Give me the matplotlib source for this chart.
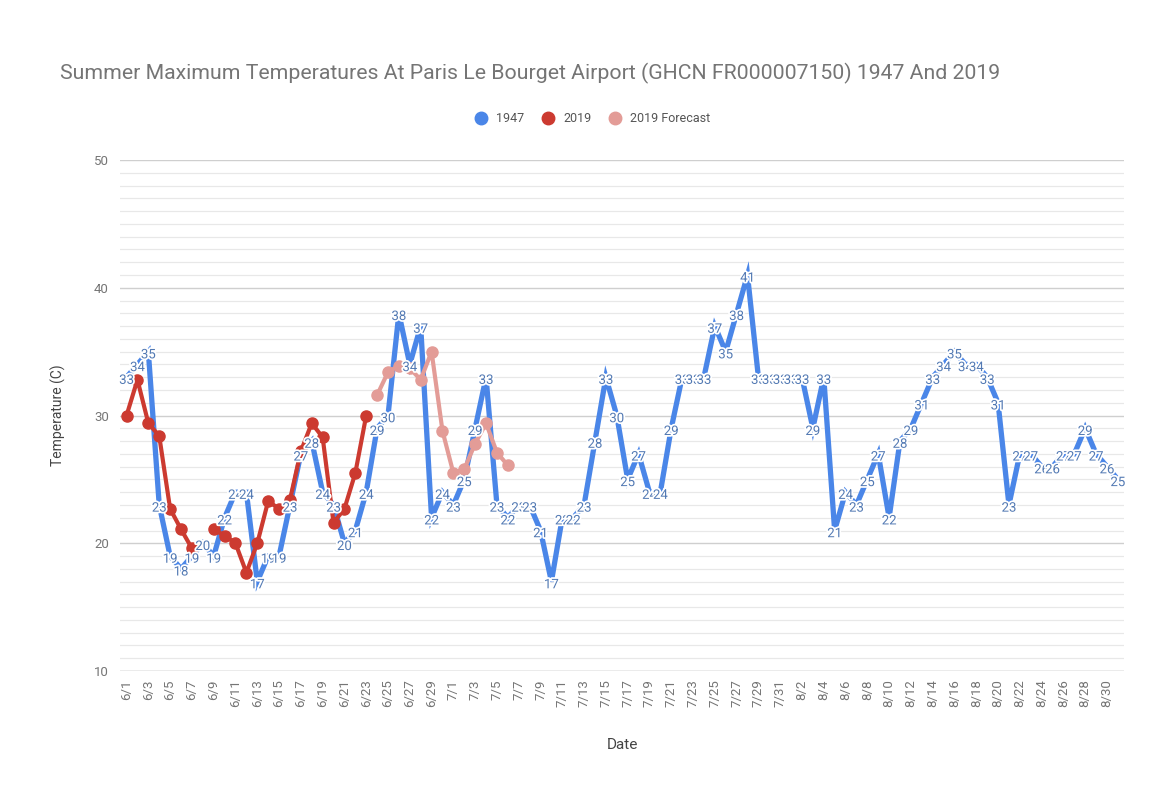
import matplotlib
matplotlib.use("Agg")
import matplotlib.pyplot as plt
import matplotlib.patheffects as pe
from matplotlib.lines import Line2D
import numpy as np
import datetime as dt

plt.rcParams.update({"font.family": ["Roboto", "DejaVu Sans"]})

# ---- data ------------------------------------------------------------------
start = dt.date(1947, 6, 1)
dates = [start + dt.timedelta(days=i) for i in range(92)]
date_labels = [f"{d.month}/{d.day}" for d in dates]

t1947 = [
    # June 1-30
    33, 34, 35, 23, 19, 18, 19, 20, 19, 22,
    24, 24, 17, 19, 19, 23, 27, 28, 24, 23,
    20, 21, 24, 29, 30, 38, 34, 37, 22, 24,
    # July 1-31
    23, 25, 29, 33, 23, 22, 23, 23, 21, 17,
    22, 22, 23, 28, 33, 30, 25, 27, 24, 24,
    29, 33, 33, 33, 37, 35, 38, 41, 33, 33,
    33,
    # August 1-31
    33, 33, 29, 33, 21, 24, 23, 25, 27, 22,
    28, 29, 31, 33, 34, 35, 34, 34, 33, 31,
    23, 27, 27, 26, 26, 27, 27, 29, 27, 26,
    25,
]

t2019 = [30.0, 32.8, 29.4, 28.4, 22.7, 21.1, 19.6, np.nan, 21.1, 20.6,
         20.0, 17.7, 20.0, 23.3, 22.7, 23.4, 27.2, 29.4, 28.3, 21.6,
         22.7, 25.5, 30.0]                      # 6/1 .. 6/23

t2019_fc = [31.6, 33.4, 33.9, 33.7, 32.8, 35.0, 28.8, 25.5, 25.8, 27.8,
            29.4, 27.1, 26.1]                   # 6/24 .. 7/6

BLUE = "#4a86e8"
RED = "#cc3a30"
PINK = "#e39c97"
GREY = "#757575"

# ---- figure ----------------------------------------------------------------
fig = plt.figure(figsize=(11.72, 7.93), dpi=100)
ax = fig.add_axes([0.1024, 0.1538, 0.857, 0.6444])

x = np.arange(len(dates))
ax.plot(x, t1947, color=BLUE, lw=3.8, solid_joinstyle="miter", zorder=3)

x19 = np.arange(len(t2019))
ax.plot(x19, t2019, color=RED, lw=3.0, marker="o", ms=8, zorder=4)
xfc = np.arange(len(t2019), len(t2019) + len(t2019_fc))
ax.plot(xfc, t2019_fc, color=PINK, lw=3.0, marker="o", ms=8, zorder=4)

halo = [pe.withStroke(linewidth=2.5, foreground="white")]
for xi, v in zip(x, t1947):
    ax.text(xi, v - 0.25, f"{v:.0f}", ha="center", va="center", fontsize=9.5,
            color="#5279b3", path_effects=halo, zorder=5)

ax.set_xlim(-0.6, 91.6)
ax.set_ylim(10, 50)
ax.set_yticks(range(10, 51, 10))
ax.set_yticks(range(10, 51, 1), minor=True)
ax.tick_params(axis="y", which="both", length=0, labelsize=9.5,
               labelcolor=GREY, pad=8)
ax.grid(axis="y", which="major", color="#cfcfcf", lw=1.0, zorder=0)
ax.grid(axis="y", which="minor", color="#e8e8e8", lw=0.9, zorder=0)
ax.set_xticks(x[::2])
ax.set_xticklabels(date_labels[::2], rotation=90, fontsize=9.5, color=GREY)
ax.tick_params(axis="x", length=0, pad=6)
for s in ax.spines.values():
    s.set_visible(False)
ax.axhline(10, color="#bdbdbd", lw=1.0, zorder=1)

ax.set_ylabel("Temperature (C)", fontsize=10, color="#444444", labelpad=20)
ax.set_xlabel("Date", fontsize=11, color="#444444", labelpad=22)

fig.text(0.051, 0.908,
         "Summer Maximum Temperatures At Paris Le Bourget Airport "
         "(GHCN FR000007150) 1947 And 2019",
         fontsize=15.3, color=GREY, ha="left", va="center")

handles = [Line2D([], [], ls="none", marker="o", ms=9, color=c)
           for c in (BLUE, RED, PINK)]
fig.legend(handles, ["1947", "2019", "2019 Forecast"], loc="center",
           bbox_to_anchor=(0.503, 0.85), ncol=3, frameon=False, fontsize=9,
           labelcolor="#555555", handletextpad=0.2, columnspacing=0.9)

fig.savefig("out.png", dpi=100, facecolor="white")
